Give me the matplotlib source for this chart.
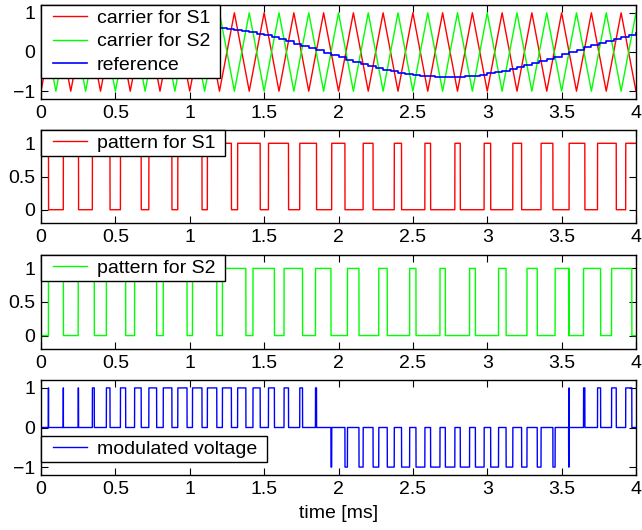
import numpy as np
import matplotlib
matplotlib.use('Agg')
import matplotlib.pyplot as plt
from matplotlib.legend_handler import HandlerLine2D
from matplotlib.lines import Line2D

plt.rcParams['font.family'] = ['Liberation Sans', 'DejaVu Sans']
plt.rcParams['font.size'] = 14

# time axis ticks [ms]
xticks = [0, 0.5, 1, 1.5, 2, 2.5, 3, 3.5, 4]
xtick_labels = ['0', '0.5', '1', '1.5', '2', '2.5', '3', '3.5', '4']

# triangular carriers: vertices every 0.1 ms
carrier_t = np.arange(41) * 0.1
carrier_s1 = [-1, 1] * 20 + [-1]
carrier_s2 = [1, -1] * 20 + [1]

ref_t = np.arange(81) * 0.05
ref_vals = [0.005, 0.005, 0.005, 0.005, 0.005, 0.040, 0.099, 0.159, 0.216, 0.272,
            0.325, 0.376, 0.423, 0.466, 0.505, 0.541, 0.570, 0.595, 0.614, 0.629,
            0.637, 0.640, 0.637, 0.629, 0.614, 0.595, 0.571, 0.541, 0.506, 0.467,
            0.423, 0.376, 0.326, 0.273, 0.217, 0.159, 0.100, 0.041, -0.020, -0.080,
            -0.139, -0.196, -0.253, -0.307, -0.358, -0.406, -0.450, -0.490, -0.528, -0.560,
            -0.587, -0.608, -0.625, -0.636, -0.640, -0.639, -0.631, -0.618, -0.600, -0.576,
            -0.546, -0.512, -0.474, -0.431, -0.385, -0.335, -0.283, -0.228, -0.179, -0.120,
            -0.061, 0.005, 0.060, 0.119, 0.178, 0.236, 0.290, 0.341, 0.390, 0.433,
            0.474]

# fine time grid for comparison
t = np.linspace(0, 4, 80001)
c1 = np.interp(t, carrier_t, carrier_s1)
c2 = np.interp(t, carrier_t, carrier_s2)
idx = np.clip(np.searchsorted(ref_t, t + 1e-9, side='right') - 1, 0, len(ref_vals) - 1)
ref = np.asarray(ref_vals)[idx]
s1 = (ref > c1).astype(float)
s2 = (ref > c2).astype(float)
v = s1 + s2 - 1

fig = plt.figure(figsize=(6.42, 5.3), dpi=100)
W, H = 642, 530
boxes = [(5, 99), (130, 223), (255, 349), (380, 475)]
axes = []
for top, bot in boxes:
    ax = fig.add_axes([41 / W, (H - bot) / H, 595 / W, (bot - top) / H])
    axes.append(ax)

# matlab-like legend: wider side padding than top/bottom
leg_kw = dict(fancybox=False, framealpha=1, edgecolor='black', borderaxespad=0,
              handlelength=2.15, handletextpad=0.5, labelspacing=0.3, borderpad=0.22,
              handler_map={Line2D: HandlerLine2D(xpad=0.4)})

ax = axes[0]
ax.plot(carrier_t, carrier_s1, color='red', lw=1, label='carrier for S1 ')
ax.plot(carrier_t, carrier_s2, color='lime', lw=1, label='carrier for S2 ')
ax.step(ref_t, ref_vals, where='post', color='blue', lw=1.2, label='reference')
ax.set_ylim(-1.2, 1.2)
ax.set_yticks([-1, 0, 1])
ax.legend(loc='upper left', **leg_kw)

ax = axes[1]
ax.plot(t, s1, color='red', lw=1, label='pattern for S1 ')
ax.set_ylim(-0.2, 1.2)
ax.set_yticks([0, 0.5, 1], labels=['0', '0.5', '1'])
ax.legend(loc='upper left', **leg_kw)

ax = axes[2]
ax.plot(t, s2, color='lime', lw=1, label='pattern for S2 ')
ax.set_ylim(-0.2, 1.2)
ax.set_yticks([0, 0.5, 1], labels=['0', '0.5', '1'])
ax.legend(loc='upper left', **leg_kw)

ax = axes[3]
ax.plot(t, v, color='blue', lw=1, label='modulated voltage ')
ax.set_ylim(-1.2, 1.2)
ax.set_yticks([-1, 0, 1])
ax.legend(loc='lower left', bbox_to_anchor=(0, 0.137), **leg_kw)
ax.set_xlabel('time [ms]', labelpad=5)

for ax in axes:
    ax.set_xlim(0, 4)
    ax.set_xticks(xticks, labels=xtick_labels)
    ax.tick_params(direction='in', top=True, right=True, length=5, width=0.8, pad=4)
    for s in ax.spines.values():
        s.set_linewidth(1)

fig.savefig('out.png', dpi=100)
